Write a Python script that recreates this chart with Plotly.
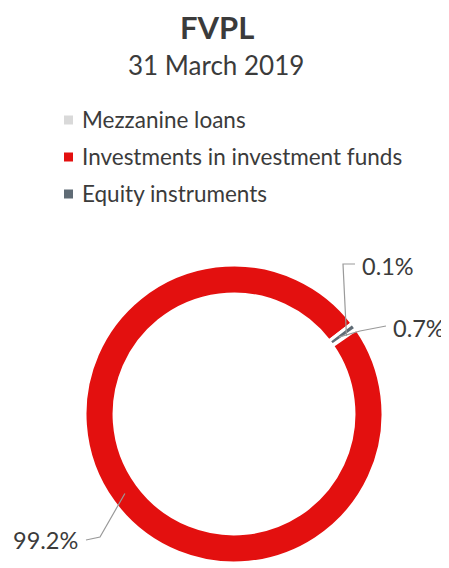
import math
import plotly.graph_objects as go

categories = ["Mezzanine loans", "Investments in investment funds", "Equity instruments"]
values = [0.1, 99.2, 0.7]
colors = ["#d9d9d9", "#e3100f", "#5f6b75"]
title = "FVPL"
subtitle = "31 March 2019"

# The page body has a default 8px margin, so the figure is sized to fit the window.
OFF = 8
W, H = 449 - OFF, 568 - OFF
FONT = "Lato"
TXT = "#3b3b3b"
ROT = 55

def X(wx):
    return (wx - OFF) / W

def Y(wy):
    return 1 - (wy - OFF) / H

def P(wx, wy):
    return f"{X(wx)},{Y(wy)}"

fig = go.Figure()
fig.add_trace(go.Pie(
    labels=categories, values=values, sort=False, direction="clockwise",
    rotation=ROT, hole=0.805, textinfo="none", hoverinfo="label+percent",
    marker=dict(colors=colors, line=dict(color="white", width=3)),
    domain=dict(x=[X(85), X(383)], y=[Y(563), Y(265)]),
    showlegend=False,
))

# slice mid angles (clockwise from 12 o'clock), window pixel centre of the ring
cx, cy = 234, 414
tot = sum(values)
mids = []
a = ROT
for v in values:
    mids.append(a + v / tot * 360 / 2)
    a += v / tot * 360

def pt(ang, r):
    t = math.radians(ang)
    return cx + r * math.sin(t), cy - r * math.cos(t)

shapes = []
annots = []
line = dict(color="#9a9a9a", width=1.2)

# Mezzanine 0.1%
sx, sy = pt(mids[0], 137)
shapes.append(dict(type="path", xref="paper", yref="paper", line=line,
                   path=f"M {P(sx, sy)} L {P(343, 264)} L {P(355, 264)}"))
annots.append(dict(x=X(360), y=Y(266), text=f"{values[0]:.1f}%", xanchor="left"))

# Equity 0.7%
sx, sy = pt(mids[2], 130)
shapes.append(dict(type="path", xref="paper", yref="paper", line=line,
                   path=f"M {P(sx, sy)} L {P(360, 331)} L {P(386, 326)}"))
annots.append(dict(x=X(391), y=Y(328), text=f"{values[2]:.1f}%", xanchor="left"))

# Investments 99.2%
sx, sy = pt(mids[1], 135)
shapes.append(dict(type="path", xref="paper", yref="paper", line=line,
                   path=f"M {P(sx, sy)} L {P(100, 537)} L {P(86, 540)}"))
annots.append(dict(x=X(80), y=Y(540), text=f"{values[1]:.1f}%", xanchor="right"))

for an in annots:
    an.update(xref="paper", yref="paper", showarrow=False, yanchor="middle",
              font=dict(family=FONT, size=23.5, color=TXT))

annots.append(dict(x=X(217), y=Y(27), xref="paper", yref="paper", showarrow=False,
                   text=f"<b>{title}</b>", font=dict(family=FONT, size=31, color=TXT), yanchor="middle"))
annots.append(dict(x=X(216), y=Y(65), xref="paper", yref="paper", showarrow=False,
                   text=subtitle, font=dict(family=FONT, size=26, color=TXT), yanchor="middle"))

# legend (built from the category / colour arrays)
leg_y = [120, 157, 194]
for cat, col, yy in zip(categories, colors, leg_y):
    shapes.append(dict(type="rect", xref="paper", yref="paper",
                       x0=X(64), x1=X(73), y0=Y(yy + 4.5), y1=Y(yy - 4.5),
                       fillcolor=col, line=dict(width=0)))
    annots.append(dict(x=X(80), y=Y(yy), xref="paper", yref="paper", showarrow=False,
                       text=cat, xanchor="left", yanchor="middle",
                       font=dict(family=FONT, size=22.5, color=TXT)))

fig.update_layout(
    width=W, height=H, margin=dict(l=0, r=0, t=0, b=0),
    paper_bgcolor="white", plot_bgcolor="white",
    shapes=shapes, annotations=annots,
)
fig.write_html("out.html")
